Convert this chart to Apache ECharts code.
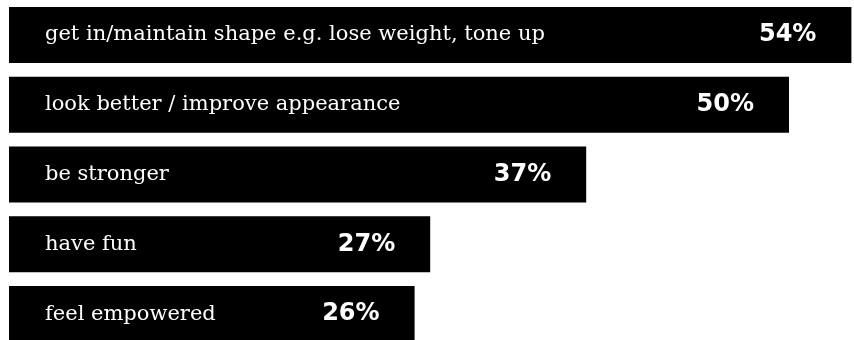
<!DOCTYPE html>
<html>
<head>
<meta charset="utf-8">
<style>
  html, body { margin: 0; padding: 0; background: #ffffff; }
  #chart { width: 854px; height: 340px; }
</style>
<script src="https://cdn.jsdelivr.net/npm/echarts@6/dist/echarts.min.js"></script>
</head>
<body>
<div id="chart"></div>
<script>
// Reasons given for working out (share of respondents, %)
const reasons = [
  'get in/maintain shape e.g. lose weight, tone up',
  'look better / improve appearance',
  'be stronger',
  'have fun',
  'feel empowered'
];
const shares = [54, 50, 37, 27, 26];

const chart = echarts.init(document.getElementById('chart'), null, { renderer: 'canvas' });

chart.setOption({
  animation: false,
  backgroundColor: '#ffffff',
  grid: {
    left: 9, top: 0, width: 858, height: 349,
    containLabel: false,
    outerBoundsMode: 'none'
  },
  xAxis: {
    type: 'value',
    min: 0,
    max: 55,
    show: false
  },
  yAxis: {
    type: 'category',
    data: reasons,
    inverse: true,
    z: 10,
    axisLine: { show: false },
    axisTick: { show: false },
    splitLine: { show: false },
    axisLabel: {
      inside: true,
      margin: 36,
      color: '#ffffff',
      fontFamily: '"DejaVu Serif", serif',
      fontSize: 21,
      verticalAlign: 'middle',
      padding: [0, 0, 4, 0]
    }
  },
  series: [{
    type: 'bar',
    data: shares,
    barWidth: 56,
    itemStyle: { color: '#000000' },
    label: {
      show: true,
      position: 'insideRight',
      distance: 35,
      color: '#ffffff',
      fontFamily: '"DejaVu Sans", sans-serif',
      fontWeight: 'bold',
      fontSize: 24,
      formatter: p => p.value + '%'
    }
  }]
});
</script>
</body>
</html>
